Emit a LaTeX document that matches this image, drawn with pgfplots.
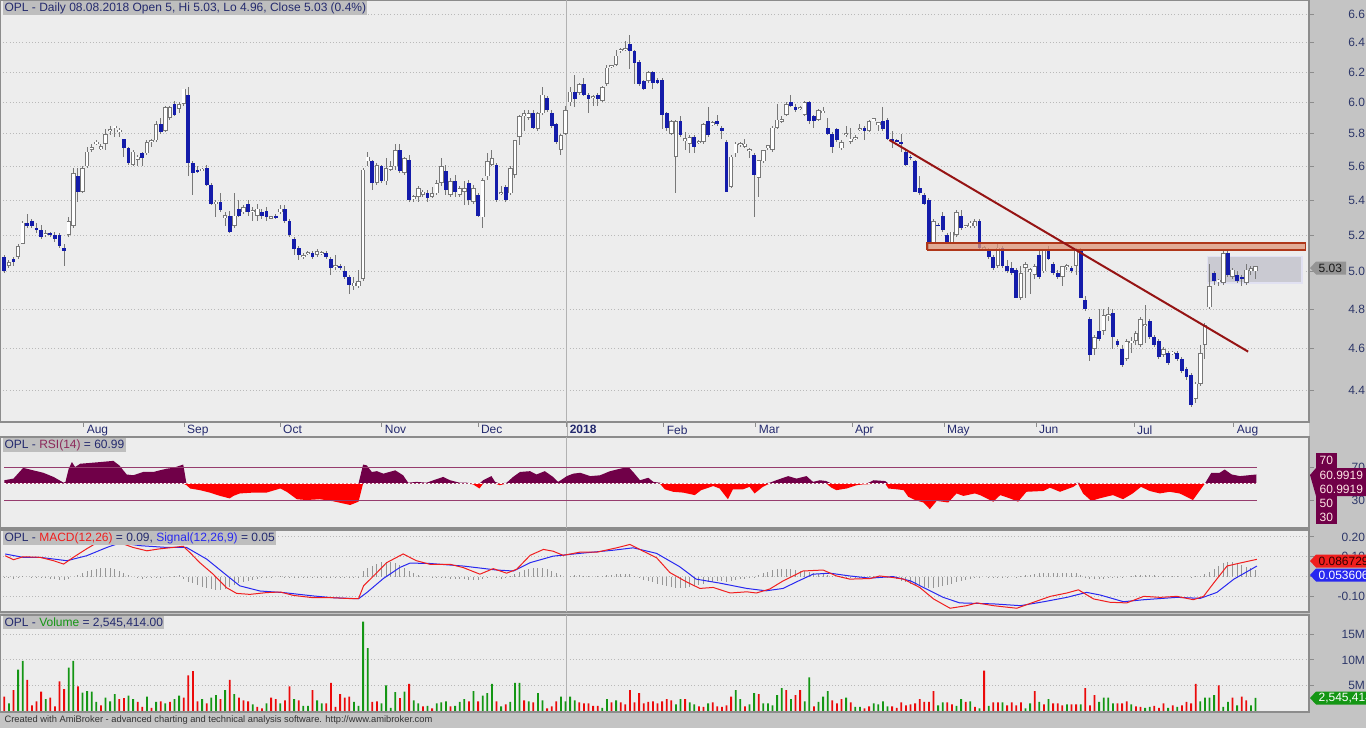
\documentclass[border=0pt]{standalone}
\usepackage{fontspec}
\setmainfont{Liberation Sans}
\usepackage{pgfplots}
\pgfplotsset{compat=1.18}
\usepackage{pgfplotstable}

\definecolor{frame}{RGB}{196,196,196}
\definecolor{panel}{RGB}{237,237,237}
\definecolor{navy}{RGB}{36,42,110}
\definecolor{ticktext}{RGB}{45,55,105}
\definecolor{gridc}{RGB}{185,185,185}
\definecolor{sep}{RGB}{140,140,140}
\definecolor{candleblue}{RGB}{20,28,170}
\definecolor{candleline}{RGB}{120,120,120}
\definecolor{trend}{RGB}{150,20,20}
\definecolor{bandfill}{RGB}{222,150,120}
\definecolor{banddraw}{RGB}{175,55,25}
\definecolor{rangebox}{RGB}{202,202,210}
\definecolor{rangeline}{RGB}{225,225,242}
\definecolor{rsifill}{RGB}{112,0,72}
\definecolor{rsiline}{RGB}{150,60,110}
\definecolor{rsitxt}{RGB}{140,40,90}
\definecolor{macdred}{RGB}{240,30,30}
\definecolor{sigblue}{RGB}{40,40,240}
\definecolor{volgreen}{RGB}{20,150,20}
\definecolor{volred}{RGB}{235,10,10}
\definecolor{histgray}{RGB}{150,150,150}
\definecolor{labelbox}{RGB}{190,190,190}

\newcommand\f{\fontsize{9}{10.5}\selectfont}

% daily candles: bar index, open, high, low, close
\pgfplotstableread{
k o h l c
0 5.08 5.09 4.99 5.00
1 5.03 5.06 5.02 5.05
2 5.07 5.08 5.03 5.05
3 5.08 5.15 5.07 5.14
4 5.15 5.28 5.15 5.27
5 5.27 5.32 5.24 5.25
6 5.28 5.29 5.24 5.25
7 5.24 5.27 5.21 5.23
8 5.23 5.26 5.18 5.19
9 5.20 5.23 5.19 5.21
10 5.21 5.22 5.19 5.20
11 5.20 5.22 5.16 5.18
12 5.20 5.21 5.13 5.14
13 5.13 5.15 5.03 5.11
14 5.20 5.30 5.19 5.28
15 5.25 5.59 5.24 5.56
16 5.54 5.59 5.39 5.45
17 5.45 5.60 5.44 5.59
18 5.60 5.72 5.59 5.69
19 5.70 5.74 5.69 5.72
20 5.74 5.76 5.73 5.75
21 5.71 5.74 5.70 5.72
22 5.74 5.83 5.70 5.80
23 5.82 5.85 5.79 5.83
24 5.84 5.85 5.78 5.85
25 5.82 5.84 5.78 5.82
26 5.77 5.77 5.66 5.71
27 5.71 5.72 5.61 5.62
28 5.61 5.70 5.60 5.69
29 5.64 5.67 5.60 5.66
30 5.68 5.69 5.60 5.65
31 5.68 5.76 5.67 5.75
32 5.75 5.77 5.72 5.76
33 5.76 5.88 5.75 5.86
34 5.86 5.90 5.80 5.81
35 5.82 5.98 5.81 5.97
36 5.90 5.98 5.89 5.97
37 5.99 6.01 5.91 5.92
38 5.96 6.00 5.93 5.99
39 5.99 6.09 5.98 6.09
40 6.05 6.10 5.54 5.62
41 5.62 5.63 5.43 5.56
42 5.58 5.60 5.56 5.57
43 5.58 5.59 5.57 5.58
44 5.59 5.61 5.48 5.49
45 5.49 5.50 5.37 5.38
46 5.38 5.40 5.30 5.39
47 5.39 5.44 5.33 5.34
48 5.30 5.33 5.25 5.31
49 5.31 5.34 5.21 5.22
50 5.25 5.44 5.24 5.31
51 5.35 5.40 5.30 5.31
52 5.33 5.37 5.32 5.36
53 5.38 5.40 5.31 5.33
54 5.33 5.36 5.28 5.34
55 5.31 5.38 5.28 5.35
56 5.33 5.35 5.29 5.31
57 5.34 5.36 5.28 5.30
58 5.30 5.31 5.29 5.30
59 5.31 5.32 5.29 5.30
60 5.33 5.37 5.32 5.35
61 5.35 5.37 5.27 5.28
62 5.28 5.29 5.19 5.20
63 5.18 5.19 5.09 5.12
64 5.13 5.14 5.06 5.09
65 5.08 5.10 5.07 5.09
66 5.10 5.11 5.09 5.10
67 5.10 5.11 5.07 5.08
68 5.09 5.12 5.08 5.11
69 5.10 5.11 5.09 5.10
70 5.10 5.11 5.07 5.08
71 5.07 5.08 4.98 5.02
72 5.03 5.09 5.01 5.03
73 5.03 5.04 5.01 5.02
74 5.00 5.03 4.96 4.97
75 4.97 4.98 4.88 4.93
76 4.92 4.97 4.90 4.94
77 4.92 5.01 4.91 4.95
78 4.96 5.59 4.95 5.58
79 5.63 5.69 5.60 5.66
80 5.63 5.64 5.46 5.50
81 5.50 5.62 5.49 5.61
82 5.60 5.61 5.50 5.51
83 5.51 5.65 5.49 5.59
84 5.58 5.63 5.57 5.60
85 5.60 5.74 5.58 5.70
86 5.70 5.74 5.56 5.57
87 5.56 5.66 5.55 5.65
88 5.64 5.67 5.39 5.40
89 5.41 5.43 5.39 5.42
90 5.42 5.48 5.39 5.47
91 5.43 5.46 5.42 5.45
92 5.44 5.46 5.39 5.41
93 5.42 5.48 5.41 5.44
94 5.44 5.52 5.43 5.50
95 5.50 5.65 5.48 5.60
96 5.57 5.61 5.43 5.46
97 5.43 5.53 5.42 5.51
98 5.51 5.55 5.42 5.45
99 5.43 5.48 5.42 5.47
100 5.45 5.51 5.37 5.47
101 5.50 5.52 5.37 5.40
102 5.39 5.49 5.38 5.47
103 5.43 5.44 5.30 5.31
104 5.30 5.53 5.24 5.52
105 5.54 5.68 5.52 5.63
106 5.61 5.70 5.60 5.65
107 5.61 5.62 5.39 5.40
108 5.44 5.48 5.43 5.44
109 5.48 5.49 5.39 5.40
110 5.44 5.60 5.43 5.59
111 5.55 5.76 5.53 5.76
112 5.78 5.92 5.73 5.91
113 5.91 5.95 5.82 5.93
114 5.90 5.95 5.89 5.93
115 5.93 5.95 5.83 5.84
116 5.83 5.94 5.82 5.93
117 5.93 6.10 5.92 6.05
118 6.03 6.04 5.94 5.95
119 5.93 5.95 5.84 5.85
120 5.86 5.87 5.74 5.75
121 5.70 5.80 5.67 5.79
122 5.80 5.98 5.79 5.95
123 6.00 6.10 5.98 6.07
124 6.07 6.18 5.97 6.02
125 6.06 6.13 6.05 6.12
126 6.12 6.16 6.04 6.05
127 6.05 6.06 5.93 6.02
128 6.03 6.05 5.98 6.04
129 6.05 6.06 5.98 6.02
130 6.01 6.11 6.00 6.10
131 6.12 6.25 6.11 6.23
132 6.24 6.25 6.23 6.24
133 6.25 6.35 6.24 6.31
134 6.35 6.36 6.33 6.35
135 6.35 6.41 6.34 6.36
136 6.39 6.45 6.22 6.34
137 6.34 6.35 6.12 6.26
138 6.27 6.28 6.11 6.12
139 6.14 6.15 6.08 6.09
140 6.14 6.21 6.13 6.20
141 6.20 6.21 6.09 6.13
142 6.15 6.16 6.12 6.13
143 6.15 6.16 5.83 5.92
144 5.93 5.94 5.82 5.84
145 5.80 5.89 5.79 5.88
146 5.66 5.89 5.44 5.88
147 5.88 5.91 5.78 5.79
148 5.76 5.81 5.70 5.77
149 5.74 5.79 5.68 5.78
150 5.78 5.79 5.68 5.72
151 5.75 5.76 5.74 5.75
152 5.75 5.87 5.74 5.86
153 5.88 5.97 5.78 5.79
154 5.86 5.88 5.85 5.87
155 5.88 5.92 5.85 5.86
156 5.84 5.85 5.77 5.82
157 5.75 5.76 5.45 5.45
158 5.48 5.67 5.47 5.66
159 5.68 5.75 5.66 5.74
160 5.73 5.75 5.72 5.74
161 5.72 5.77 5.71 5.74
162 5.70 5.71 5.65 5.70
163 5.67 5.68 5.30 5.55
164 5.53 5.64 5.42 5.64
165 5.63 5.70 5.62 5.70
166 5.71 5.73 5.70 5.73
167 5.70 5.85 5.69 5.84
168 5.84 5.99 5.83 5.89
169 5.88 5.91 5.87 5.89
170 5.92 6.00 5.91 5.99
171 6.00 6.05 5.97 5.98
172 5.97 5.99 5.94 5.95
173 5.96 5.98 5.95 5.97
174 5.92 6.01 5.91 6.00
175 6.00 6.01 5.86 5.88
176 5.91 5.92 5.84 5.88
177 5.89 5.96 5.88 5.95
178 5.94 5.97 5.93 5.94
179 5.84 5.90 5.79 5.80
180 5.80 5.81 5.68 5.72
181 5.83 5.84 5.75 5.76
182 5.71 5.76 5.70 5.75
183 5.80 5.85 5.78 5.80
184 5.75 5.84 5.74 5.77
185 5.77 5.79 5.76 5.78
186 5.83 5.86 5.82 5.83
187 5.84 5.85 5.76 5.82
188 5.82 5.89 5.81 5.88
189 5.89 5.90 5.88 5.89
190 5.86 5.87 5.82 5.87
191 5.88 5.97 5.82 5.83
192 5.89 5.90 5.76 5.77
193 5.77 5.82 5.71 5.76
194 5.76 5.77 5.75 5.75
195 5.75 5.80 5.69 5.74
196 5.69 5.70 5.60 5.61
197 5.66 5.67 5.64 5.65
198 5.63 5.64 5.45 5.45
199 5.47 5.54 5.43 5.44
200 5.43 5.44 5.37 5.38
201 5.40 5.41 5.12 5.15
202 5.16 5.29 5.15 5.28
203 5.26 5.27 5.25 5.25
204 5.31 5.33 5.22 5.23
205 5.20 5.21 5.15 5.16
206 5.16 5.22 5.15 5.22
207 5.20 5.34 5.19 5.33
208 5.31 5.34 5.23 5.24
209 5.25 5.26 5.24 5.25
210 5.25 5.28 5.24 5.27
211 5.25 5.29 5.24 5.28
212 5.28 5.29 5.12 5.13
213 5.12 5.14 5.11 5.13
214 5.12 5.13 5.07 5.08
215 5.08 5.09 5.01 5.02
216 5.03 5.16 5.02 5.13
217 5.13 5.14 5.02 5.03
218 5.03 5.06 4.99 5.00
219 5.02 5.05 4.98 4.99
220 5.01 5.02 4.86 4.86
221 4.86 5.03 4.85 4.99
222 5.02 5.05 4.86 5.04
223 5.00 5.02 4.88 5.01
224 4.98 5.04 4.96 5.03
225 5.09 5.11 4.96 4.97
226 5.00 5.12 4.99 5.12
227 5.11 5.14 5.06 5.07
228 5.04 5.05 4.98 4.99
229 4.99 5.01 4.96 4.97
230 4.97 5.03 4.92 5.03
231 5.03 5.04 5.01 5.03
232 5.02 5.03 4.99 5.00
233 5.03 5.13 4.98 5.12
234 5.12 5.13 4.86 4.86
235 4.85 4.87 4.79 4.80
236 4.75 4.76 4.54 4.57
237 4.60 4.67 4.57 4.66
238 4.69 4.80 4.64 4.65
239 4.69 4.80 4.67 4.77
240 4.77 4.81 4.74 4.77
241 4.78 4.80 4.60 4.66
242 4.64 4.65 4.61 4.62
243 4.60 4.62 4.51 4.52
244 4.55 4.65 4.54 4.64
245 4.63 4.66 4.58 4.64
246 4.64 4.69 4.62 4.68
247 4.62 4.76 4.61 4.75
248 4.72 4.82 4.63 4.72
249 4.74 4.75 4.65 4.66
250 4.66 4.67 4.61 4.62
251 4.64 4.65 4.55 4.56
252 4.57 4.61 4.56 4.60
253 4.58 4.59 4.52 4.53
254 4.58 4.59 4.57 4.58
255 4.58 4.59 4.54 4.55
256 4.55 4.56 4.48 4.49
257 4.50 4.51 4.45 4.46
258 4.47 4.48 4.32 4.33
259 4.36 4.44 4.34 4.43
260 4.43 4.62 4.42 4.58
261 4.62 4.73 4.55 4.72
262 4.81 5.04 4.80 4.92
263 4.99 5.00 4.93 4.95
264 4.95 4.96 4.92 4.95
265 4.94 5.12 4.93 5.10
266 5.10 5.11 4.97 4.98
267 4.97 5.02 4.96 5.01
268 4.98 5.00 4.94 4.95
269 4.97 4.98 4.92 4.96
270 4.94 5.04 4.93 5.01
271 5.00 5.03 4.98 5.02
272 5.00 5.03 4.96 5.03
}\candles

% RSI(14), read at sampled bar positions
\pgfplotstableread[row sep=\\]{
k r\\
0 54\\ 2 56\\ 4.1 69\\ 6.3 66\\ 8.5 63\\ 10.7 58\\ 12.9 51\\ 13.3 52\\ 14 68\\ 14.7 76\\
15.4 70\\ 16.5 74\\ 18.7 75\\ 20.8 76\\ 23.7 77.5\\ 25 72\\ 26.6 61\\ 28 60\\ 30.2 64\\ 32.4 64\\
33.8 66\\ 35.3 68\\ 36.7 69\\ 38.9 73\\ 39.6 48\\ 40.4 44\\ 42.5 42\\ 44.7 39\\ 46.9 35\\ 49 32\\
49.8 35\\ 51.2 38\\ 54.1 39\\ 57 39\\ 60 44\\ 61.4 40\\ 63.6 31\\ 65.7 30\\ 68.6 31\\ 71.5 28.5\\
75.2 24\\ 77 28\\ 78 73\\ 78.8 72\\ 79.9 64\\ 81 65\\ 82.4 62\\ 85 66\\ 86.7 60\\ 87.8 51\\
89.6 52\\ 91.8 51\\ 93.3 54\\ 95.4 58\\ 96.9 54\\ 99 51\\ 100.5 51\\ 101.9 49\\ 103.3 44\\ 104.1 54\\
105.9 59\\ 106.7 52\\ 107.7 48\\ 109.2 51\\ 110.6 58\\ 112.1 64\\ 114.3 65\\ 115.7 61\\ 117.5 65\\ 119.3 58\\
120.4 52\\ 122.3 59\\ 123.7 62\\ 125.2 63\\ 127.4 59\\ 129.5 60\\ 131.7 65\\ 133.9 68\\ 135.7 70\\ 136.7 64\\
138.2 54\\ 140 57\\ 141.1 52\\ 142.5 51\\ 143.6 43\\ 145.4 40\\ 147.6 39\\ 150.1 36\\ 151.5 42\\ 152.6 44\\
154.1 47\\ 155.5 44\\ 157.3 31\\ 158.4 43\\ 160.6 43\\ 162 46\\ 163.1 38\\ 164.9 46\\ 166.4 51\\ 167.8 54\\
170.4 59\\ 172.2 56\\ 174.4 59\\ 175.8 52\\ 177.3 54\\ 178.7 53\\ 179.8 45\\ 180.9 42\\ 183.1 44\\ 185.3 48\\
186.7 49\\ 187.5 49\\ 189 54\\ 191.5 53\\ 192.2 44\\ 194 43\\ 195.5 42\\ 196.5 34\\ 198 30\\ 199.8 27\\
201.2 19\\ 202.7 29\\ 205.2 27\\ 207 38\\ 208.5 35\\ 211 38\\ 212.1 36\\ 215 28\\ 216.5 36\\ 218.6 32\\
220.4 28\\ 222.2 40\\ 225.9 41\\ 227.3 45\\ 229.5 40\\ 232.4 46\\ 233.4 51\\ 234.5 38\\ 236.3 29\\ 238.1 32\\
241 36\\ 243.2 31\\ 245.3 38\\ 247.1 46\\ 249 41\\ 251.2 38\\ 253.3 40\\ 255.5 38\\ 258.4 30\\ 261 50\\
262.4 63\\ 264.2 63\\ 265.3 67\\ 266.8 61\\ 268.6 59\\ 270.4 60\\ 272.2 61\\
}\rsi

% MACD(12,26) line
\pgfplotstableread[row sep=\\]{
k m\\
0.2 0.105\\ 2 0.085\\ 4.1 0.10\\ 7.8 0.097\\ 10.7 0.08\\ 12.9 0.063\\ 15 0.097\\ 17.9 0.14\\ 20.8 0.18\\ 23 0.185\\
25.2 0.17\\ 28 0.147\\ 31 0.13\\ 33.8 0.14\\ 36.7 0.147\\ 38.9 0.153\\ 40.4 0.12\\ 42.5 0.07\\ 45.4 0.012\\ 48.3 -0.056\\
50.5 -0.085\\ 53.4 -0.09\\ 57 -0.081\\ 60 -0.078\\ 62.8 -0.095\\ 67.2 -0.107\\ 71.5 -0.107\\ 75.9 -0.112\\ 77 -0.112\\ 78.1 -0.047\\
81 0.02\\ 83.1 0.07\\ 86.7 0.114\\ 89.6 0.08\\ 92.5 0.062\\ 96.9 0.062\\ 99.8 0.045\\ 103.4 0.012\\ 106.3 0.04\\ 109.2 0.017\\
111.4 0.037\\ 114.3 0.107\\ 117.2 0.137\\ 119.3 0.128\\ 121.5 0.107\\ 125.1 0.123\\ 128.8 0.123\\ 133.1 0.145\\ 136 0.162\\ 138.9 0.128\\
141.8 0.095\\ 144.7 0.02\\ 148.3 -0.027\\ 151.2 -0.06\\ 154.1 -0.055\\ 157.8 -0.083\\ 161.4 -0.077\\ 163.5 -0.083\\ 166.4 -0.063\\ 169.3 -0.022\\
173.6 0.028\\ 178 0.033\\ 180.9 0.003\\ 183.8 -0.013\\ 188.2 -0.01\\ 190.3 0.003\\ 193.2 -0.005\\ 195.5 -0.013\\ 199 -0.055\\ 202 -0.113\\
205.6 -0.16\\ 209.2 -0.147\\ 211.4 -0.133\\ 215 -0.147\\ 220.1 -0.16\\ 223.7 -0.13\\ 227.4 -0.1\\ 231 -0.083\\ 233.5 -0.067\\ 236.8 -0.113\\
240.4 -0.13\\ 244 -0.133\\ 247.7 -0.1\\ 251.3 -0.105\\ 254.9 -0.1\\ 258.5 -0.117\\ 260.7 -0.1\\ 262.9 -0.033\\ 265.8 0.053\\ 268 0.065\\
272.3 0.087\\
}\macd

% Signal(12,26,9) line
\pgfplotstableread[row sep=\\]{
k s\\
0.2 0.114\\ 4.1 0.097\\ 7.8 0.097\\ 13.6 0.08\\ 17.9 0.105\\ 22.3 0.147\\ 25.2 0.17\\ 29.5 0.156\\ 35.3 0.147\\ 39.6 0.147\\
44 0.088\\ 48.3 0.007\\ 51.2 -0.047\\ 55.6 -0.073\\ 60.7 -0.081\\ 67.2 -0.098\\ 71.5 -0.107\\ 77 -0.112\\ 78.8 -0.081\\ 82.4 -0.01\\
86 0.046\\ 88.2 0.068\\ 92.5 0.066\\ 99.8 0.053\\ 107 0.033\\ 110.7 0.028\\ 114.3 0.07\\ 119.3 0.103\\ 125.1 0.117\\ 132.4 0.133\\
136.7 0.145\\ 141.8 0.117\\ 146.8 0.05\\ 150.4 -0.013\\ 155.5 -0.033\\ 161.4 -0.06\\ 165.6 -0.072\\ 169.3 -0.06\\ 172.2 -0.027\\ 175.8 0.012\\
179.5 0.017\\ 183.8 0.003\\ 188.2 -0.008\\ 193.2 0\\ 197 -0.022\\ 200.5 -0.063\\ 204.1 -0.105\\ 207.7 -0.133\\ 215 -0.138\\ 220.9 -0.147\\
226 -0.127\\ 231 -0.105\\ 235.3 -0.08\\ 238.2 -0.093\\ 243.3 -0.127\\ 247.7 -0.117\\ 254.9 -0.105\\ 260 -0.11\\ 263.6 -0.08\\ 267.3 -0.013\\
272.3 0.053\\
}\sig

% MACD histogram, one value per bar
\pgfplotstableread[row sep=\\]{
k h\\
0 -0.008\\ 1 -0.008\\ 2 -0.01\\ 3 -0.005\\ 4 0.002\\ 5 0\\ 6 -0.002\\ 7 -0.003\\ 8 -0.005\\ 9 -0.008\\
10 -0.01\\ 11 -0.012\\ 12 -0.015\\ 13 -0.018\\ 14 -0.01\\ 15 0\\ 16 0.01\\ 17 0.02\\ 18 0.028\\ 19 0.035\\
20 0.04\\ 21 0.045\\ 22 0.045\\ 23 0.042\\ 24 0.04\\ 25 0.03\\ 26 0.02\\ 27 0.01\\ 28 0\\ 29 -0.005\\
30 -0.01\\ 31 -0.008\\ 32 -0.006\\ 33 -0.004\\ 34 -0.002\\ 35 0\\ 36 0.002\\ 37 0.004\\ 38 0.006\\ 39 -0.01\\
40 -0.025\\ 41 -0.035\\ 42 -0.045\\ 43 -0.055\\ 44 -0.06\\ 45 -0.065\\ 46 -0.07\\ 47 -0.07\\ 48 -0.065\\ 49 -0.055\\
50 -0.045\\ 51 -0.035\\ 52 -0.025\\ 53 -0.02\\ 54 -0.015\\ 55 -0.01\\ 56 -0.008\\ 57 -0.005\\ 58 -0.003\\ 59 0\\
60 0.002\\ 61 -0.002\\ 62 -0.005\\ 63 -0.008\\ 64 -0.008\\ 65 -0.007\\ 66 -0.006\\ 67 -0.005\\ 68 -0.004\\ 69 -0.003\\
70 -0.003\\ 71 -0.002\\ 72 -0.002\\ 73 -0.003\\ 74 -0.003\\ 75 -0.004\\ 76 -0.004\\ 77 -0.003\\ 78 0.03\\ 79 0.045\\
80 0.055\\ 81 0.065\\ 82 0.075\\ 83 0.075\\ 84 0.072\\ 85 0.068\\ 86 0.06\\ 87 0.045\\ 88 0.03\\ 89 0.02\\
90 0.01\\ 91 0.005\\ 92 0\\ 93 -0.003\\ 94 -0.005\\ 95 -0.006\\ 96 -0.008\\ 97 -0.01\\ 98 -0.012\\ 99 -0.012\\
100 -0.014\\ 101 -0.016\\ 102 -0.018\\ 103 -0.015\\ 104 -0.01\\ 105 -0.005\\ 106 0\\ 107 -0.008\\ 108 -0.01\\ 109 -0.008\\
110 0.005\\ 111 0.015\\ 112 0.025\\ 113 0.035\\ 114 0.04\\ 115 0.043\\ 116 0.045\\ 117 0.043\\ 118 0.04\\ 119 0.03\\
120 0.02\\ 121 0.008\\ 122 0\\ 123 0.005\\ 124 0.008\\ 125 0.006\\ 126 0.004\\ 127 0.002\\ 128 0\\ 129 0.002\\
130 0.004\\ 131 0.008\\ 132 0.01\\ 133 0.012\\ 134 0.014\\ 135 0.014\\ 136 0.012\\ 137 0.005\\ 138 -0.008\\ 139 -0.015\\
140 -0.022\\ 141 -0.03\\ 142 -0.038\\ 143 -0.045\\ 144 -0.05\\ 145 -0.055\\ 146 -0.06\\ 147 -0.06\\ 148 -0.058\\ 149 -0.055\\
150 -0.05\\ 151 -0.045\\ 152 -0.038\\ 153 -0.03\\ 154 -0.025\\ 155 -0.02\\ 156 -0.022\\ 157 -0.025\\ 158 -0.02\\ 159 -0.015\\
160 -0.012\\ 161 -0.01\\ 162 -0.008\\ 163 -0.006\\ 164 0.01\\ 165 0.018\\ 166 0.025\\ 167 0.032\\ 168 0.038\\ 169 0.04\\
170 0.04\\ 171 0.038\\ 172 0.035\\ 173 0.03\\ 174 0.028\\ 175 0.025\\ 176 0.02\\ 177 0.015\\ 178 0.012\\ 179 0.008\\
180 0.004\\ 181 0\\ 182 -0.004\\ 183 -0.006\\ 184 -0.006\\ 185 -0.004\\ 186 -0.002\\ 187 0\\ 188 0.002\\ 189 0.004\\
190 0.004\\ 191 0.002\\ 192 -0.002\\ 193 -0.006\\ 194 -0.012\\ 195 -0.02\\ 196 -0.028\\ 197 -0.036\\ 198 -0.044\\ 199 -0.05\\
200 -0.055\\ 201 -0.058\\ 202 -0.058\\ 203 -0.055\\ 204 -0.05\\ 205 -0.045\\ 206 -0.038\\ 207 -0.03\\ 208 -0.022\\ 209 -0.015\\
210 -0.01\\ 211 -0.005\\ 212 -0.002\\ 213 0\\ 214 -0.002\\ 215 -0.005\\ 216 -0.006\\ 217 -0.004\\ 218 -0.002\\ 219 0\\
220 -0.004\\ 221 0.002\\ 222 0.006\\ 223 0.01\\ 224 0.014\\ 225 0.016\\ 226 0.018\\ 227 0.02\\ 228 0.02\\ 229 0.02\\
230 0.018\\ 231 0.018\\ 232 0.018\\ 233 0.02\\ 234 0.01\\ 235 -0.005\\ 236 -0.01\\ 237 -0.012\\ 238 -0.012\\ 239 -0.01\\
240 -0.008\\ 241 -0.006\\ 242 -0.004\\ 243 -0.002\\ 244 0\\ 245 0.004\\ 246 0.006\\ 247 0.008\\ 248 0.008\\ 249 0.007\\
250 0.006\\ 251 0.005\\ 252 0.004\\ 253 0.003\\ 254 0.002\\ 255 0.002\\ 256 0\\ 257 0\\ 258 -0.002\\ 259 0.002\\
260 0.005\\ 261 0.012\\ 262 0.025\\ 263 0.04\\ 264 0.055\\ 265 0.068\\ 266 0.075\\ 267 0.075\\ 268 0.07\\ 269 0.06\\
270 0.05\\ 271 0.045\\ 272 0.035\\
}\hist

% volume in millions, g = 1 green / 0 red
\pgfplotstableread[row sep=\\]{
k v g\\
0 2.8 0\\ 1 1.5 1\\ 2 4.1 0\\ 3 8.1 1\\ 4 9.8 1\\ 5 6.1 0\\ 6 1.1 0\\ 7 1.9 0\\ 8 3.8 0\\ 9 2.3 1\\
10 2.6 0\\ 11 0.9 0\\ 12 5.8 0\\ 13 4.3 0\\ 14 8.5 1\\ 15 9.8 1\\ 16 4.8 0\\ 17 3.6 1\\ 18 3.9 1\\ 19 3.8 1\\
20 1.8 1\\ 21 1.1 0\\ 22 2.6 1\\ 23 1.9 1\\ 24 3.3 1\\ 25 2.3 0\\ 26 2.5 0\\ 27 3.0 1\\ 28 2.3 1\\ 29 1.8 0\\
30 0.8 0\\ 31 2.8 1\\ 32 0.6 0\\ 33 1.8 1\\ 34 1.9 0\\ 35 1.5 1\\ 36 1.8 0\\ 37 2.3 1\\ 38 3.0 1\\ 39 2.6 0\\
40 7.0 0\\ 41 7.8 0\\ 42 1.9 0\\ 43 2.3 1\\ 44 1.5 0\\ 45 2.6 1\\ 46 3.1 1\\ 47 2.3 0\\ 48 4.1 1\\ 49 6.1 0\\
50 3.3 1\\ 51 2.6 0\\ 52 2.1 0\\ 53 1.9 0\\ 54 1.3 1\\ 55 0.8 0\\ 56 0.5 0\\ 57 1.5 1\\ 58 2.6 0\\ 59 2.3 0\\
60 1.5 1\\ 61 2.1 0\\ 62 4.8 0\\ 63 2.3 1\\ 64 2.1 0\\ 65 1.0 1\\ 66 1.0 1\\ 67 4.1 0\\ 68 2.1 1\\ 69 1.5 1\\
70 1.5 0\\ 71 5.5 0\\ 72 0.8 0\\ 73 3.3 0\\ 74 2.6 0\\ 75 2.8 0\\ 76 1.8 1\\ 77 1.0 1\\ 78 17.5 1\\ 79 12.3 1\\
80 1.8 0\\ 81 1.9 0\\ 82 1.5 1\\ 83 5.0 1\\ 84 0.6 1\\ 85 3.7 1\\ 86 2.5 0\\ 87 3.8 1\\ 88 5.3 0\\ 89 2.1 1\\
90 1.5 1\\ 91 0.9 0\\ 92 1.0 1\\ 93 0.5 0\\ 94 1.5 1\\ 95 1.7 1\\ 96 1.9 1\\ 97 0.9 0\\ 98 1.0 1\\ 99 1.8 1\\
100 2.3 1\\ 101 1.9 0\\ 102 3.9 1\\ 103 1.9 0\\ 104 3.0 1\\ 105 3.5 1\\ 106 5.3 1\\ 107 1.9 0\\ 108 0.9 1\\ 109 1.3 0\\
110 1.8 1\\ 111 5.5 1\\ 112 5.5 1\\ 113 2.1 0\\ 114 1.9 1\\ 115 1.7 0\\ 116 3.5 1\\ 117 2.1 1\\ 118 0.5 0\\ 119 0.9 0\\
120 1.9 0\\ 121 2.8 1\\ 122 1.9 1\\ 123 2.8 1\\ 124 2.1 1\\ 125 1.7 0\\ 126 1.5 0\\ 127 1.5 0\\ 128 1.0 0\\ 129 1.0 0\\
130 0.6 1\\ 131 2.3 1\\ 132 1.7 0\\ 133 2.1 1\\ 134 1.7 0\\ 135 1.3 0\\ 136 4.1 0\\ 137 1.7 0\\ 138 3.5 0\\ 139 1.5 0\\
140 1.8 0\\ 141 1.9 0\\ 142 1.5 0\\ 143 1.9 0\\ 144 2.3 0\\ 145 2.1 0\\ 146 1.3 1\\ 147 2.3 1\\ 148 2.3 0\\ 149 1.7 1\\
150 1.3 1\\ 151 0.9 0\\ 152 0.8 0\\ 153 1.5 1\\ 154 1.7 0\\ 155 0.9 0\\ 156 0.8 0\\ 157 1.1 0\\ 158 2.8 0\\ 159 4.1 1\\
160 2.3 1\\ 161 0.9 0\\ 162 1.3 1\\ 163 3.5 1\\ 164 3.3 0\\ 165 1.5 1\\ 166 1.5 1\\ 167 1.1 1\\ 168 3.1 1\\ 169 4.5 1\\
170 4.1 0\\ 171 2.3 1\\ 172 3.1 0\\ 173 4.1 0\\ 174 1.9 1\\ 175 6.6 1\\ 176 0.9 0\\ 177 1.8 1\\ 178 2.8 1\\ 179 3.9 1\\
180 2.1 0\\ 181 1.5 0\\ 182 2.3 0\\ 183 2.6 1\\ 184 1.7 0\\ 185 0.8 1\\ 186 0.8 1\\ 187 0.5 0\\ 188 0.9 0\\ 189 1.5 1\\
190 1.3 1\\ 191 1.9 1\\ 192 0.9 1\\ 193 0.9 0\\ 194 0.6 0\\ 195 1.7 0\\ 196 1.1 0\\ 197 1.3 0\\ 198 1.5 0\\ 199 2.3 0\\
200 1.8 0\\ 201 1.8 0\\ 202 3.9 0\\ 203 1.1 1\\ 204 1.7 1\\ 205 1.7 0\\ 206 1.3 0\\ 207 1.0 1\\ 208 2.3 1\\ 209 1.8 0\\
210 1.9 1\\ 211 0.8 0\\ 212 0.5 1\\ 213 7.9 0\\ 214 1.0 1\\ 215 1.7 0\\ 216 1.7 0\\ 217 1.7 1\\ 218 1.1 0\\ 219 1.7 0\\
220 1.1 0\\ 221 1.7 0\\ 222 0.5 1\\ 223 1.5 1\\ 224 3.9 0\\ 225 1.8 1\\ 226 1.3 0\\ 227 2.3 1\\ 228 1.5 0\\ 229 1.5 0\\
230 1.1 0\\ 231 1.3 1\\ 232 1.3 0\\ 233 1.3 0\\ 234 1.3 1\\ 235 4.5 0\\ 236 1.1 0\\ 237 3.1 0\\ 238 1.8 1\\ 239 2.6 1\\
240 2.6 1\\ 241 1.5 1\\ 242 1.5 0\\ 243 1.5 0\\ 244 1.9 0\\ 245 1.3 1\\ 246 0.9 0\\ 247 0.8 0\\ 248 0.6 1\\ 249 0.8 1\\
250 1.0 0\\ 251 0.6 0\\ 252 1.5 0\\ 253 0.6 1\\ 254 1.1 0\\ 255 0.8 1\\ 256 1.1 0\\ 257 1.8 0\\ 258 1.5 0\\ 259 5.3 0\\
260 1.9 1\\ 261 2.6 1\\ 262 2.6 1\\ 263 3.1 1\\ 264 5.0 0\\ 265 0.8 1\\ 266 1.8 1\\ 267 2.6 0\\ 268 1.1 1\\ 269 2.8 0\\
270 2.1 0\\ 271 1.1 1\\ 272 2.55 1\\
}\vol

\pgfplotsset{
  panel/.style={
    scale only axis, width=981.75pt, anchor=north west,
    xmin=-0.935, xmax=283.63,
    axis background/.style={fill=panel},
    axis line style={draw=sep, line width=1.2pt},
    tick align=outside, major tick length=3.5pt,
    tick style={draw=sep, line width=0.75pt},
    ytick pos=right,
    yticklabel style={anchor=east, xshift=42pt, font=\f, text=ticktext},
    ymajorgrids, major grid style={draw=gridc, dotted, line width=0.75pt},
    xtick=\empty,
    extra x ticks={122.3}, extra x tick labels={},
    extra x tick style={grid=major, major tick length=0pt,
      major grid style={draw=black!30, solid, line width=0.75pt}},
  },
  candle/.style={draw=none, mark=none,
    error bars/.cd, y dir=both, y explicit, error mark=none},
}

\begin{document}
\begin{tikzpicture}
\useasboundingbox (0,0) rectangle (1024.5pt,-546pt);
\fill[frame] (0,0) rectangle (1024.5pt,-546pt);
\begin{scope}[x=0.75pt,y=-0.75pt]
  \fill[panel] (0,422) rectangle (1309,437);
  \draw[black!30, line width=0.75pt] (567,422) -- (567,437);
\end{scope}

% ---- price (log scale drawn as ln of price)
\begin{axis}[panel, at={(0pt,0pt)}, height=316.5pt,
    ymin=1.4471, ymax=1.9022,
    ytick={1.48160,1.52606,1.56862,1.60944,1.64866,1.68640,1.72277,1.75786,1.79176,1.82455,1.85630,1.88707},
    yticklabels={4.4,4.6,4.8,5.0,5.2,5.4,5.6,5.8,6.0,6.2,6.4,6.6},
    xtick={17.3,39.1,60,82.1,103,122.3,143.4,163.4,184.3,204.3,224.3,245.6,267.3},
    xticklabels={Aug,Sep,Oct,Nov,Dec,\textbf{2018},Feb,Mar,Apr,May,Jun,Jul,Aug},
    xtick pos=bottom,
    xticklabel style={anchor=north west, inner sep=0pt, xshift=2pt, yshift=1pt, font=\f, text=navy},
  ]
  \addplot[fill=rangebox, draw=rangeline, line width=1pt]
    table[x=k, y expr=ln(\thisrow{p}), row sep=\\]
    {k p\\ 261.5 4.938\\ 282.1 4.938\\ 282.1 5.081\\ 261.5 5.081\\ 261.5 4.938\\};
  % wicks
  \addplot[candle, error bar style={draw=candleline, line width=0.75pt}]
    table[x=k, y expr={(ln(\thisrow{h})+ln(\thisrow{l}))/2},
          y error expr={(ln(\thisrow{h})-ln(\thisrow{l}))/2}] {\candles};
  % rising bodies: outline, then white inside
  \addplot[candle, error bar style={draw=candleline, line width=3.3pt}]
    table[x=k, y expr={\thisrow{c}<\thisrow{o} ? nan : (ln(\thisrow{o})+ln(\thisrow{c}))/2},
          y error expr={max(abs(ln(\thisrow{c})-ln(\thisrow{o}))/2,0.0012)}] {\candles};
  \addplot[candle, error bar style={draw=white, line width=1.9pt}]
    table[x=k, y expr={\thisrow{c}<\thisrow{o} ? nan : (ln(\thisrow{o})+ln(\thisrow{c}))/2},
          y error expr={max(abs(ln(\thisrow{c})-ln(\thisrow{o}))/2,0.0012)-0.0008}] {\candles};
  % falling bodies
  \addplot[candle, error bar style={draw=candleblue, line width=2.9pt}]
    table[x=k, y expr={\thisrow{c}<\thisrow{o} ? (ln(\thisrow{o})+ln(\thisrow{c}))/2 : nan},
          y error expr={max(abs(ln(\thisrow{o})-ln(\thisrow{c}))/2,0.0007)}] {\candles};
  % resistance band and trend line
  \addplot[fill=bandfill, fill opacity=0.75, draw=banddraw, line width=1pt]
    table[x=k, y expr=ln(\thisrow{p}), row sep=\\]
    {k p\\ 200.6 5.117\\ 282.8 5.117\\ 282.8 5.156\\ 200.6 5.156\\ 200.6 5.117\\};
  \addplot[trend, line width=1.5pt]
    table[x=k, y expr=ln(\thisrow{p}), row sep=\\] {k p\\ 192.4 5.762\\ 270.4 4.586\\};
\end{axis}

% ---- RSI (plotted as RSI-50)
\begin{axis}[panel, at={(0pt,-327.75pt)}, height=68.25pt,
    ymin=-53.9, ymax=56.4, ymajorgrids=false,
    ytick={-20,20}, yticklabels={30,70}]
  \addplot[fill=rsifill, draw=none] table[x=k, y expr={max(\thisrow{r}-50,0)}] {\rsi} \closedcycle;
  \addplot[fill=red, draw=none] table[x=k, y expr={min(\thisrow{r}-50,0)}] {\rsi} \closedcycle;
  \addplot[rsiline, line width=0.75pt] coordinates {(0,20) (272.3,20)};
  \addplot[rsiline, line width=0.75pt] coordinates {(0,-20) (272.3,-20)};
  \addplot[white, line width=0.75pt, dash pattern=on 1.5pt off 1.5pt] coordinates {(0,0) (272.3,0)};
\end{axis}

% ---- MACD
\begin{axis}[panel, at={(0pt,-397.5pt)}, height=61.5pt,
    ymin=-0.179, ymax=0.235,
    ytick={-0.1,0,0.1,0.2}, yticklabels={-0.10,0.00,0.10,0.20}]
  \addplot[ycomb, histgray, line width=0.75pt] table[x=k, y=h] {\hist};
  \addplot[sigblue, line width=0.75pt] table[x=k, y=s] {\sig};
  \addplot[macdred, line width=0.75pt] table[x=k, y=m] {\macd};
\end{axis}

% ---- Volume
\begin{axis}[panel, at={(0pt,-461.25pt)}, height=72.75pt,
    ymin=-0.2, ymax=18.8,
    ytick={5,10,15}, yticklabels={5M,10M,15M}]
  \addplot[ybar, bar width=1.35pt, bar shift=0pt, fill=volgreen, draw=none]
    table[x=k, y expr={\thisrow{g}>0.5 ? \thisrow{v} : nan}] {\vol};
  \addplot[ybar, bar width=1.35pt, bar shift=0pt, fill=volred, draw=none]
    table[x=k, y expr={\thisrow{g}<0.5 ? \thisrow{v} : nan}] {\vol};
\end{axis}

% ---- captions and value tags
\begin{scope}[x=0.75pt,y=-0.75pt, every node/.style={font=\f, inner sep=1pt}]
  \clip (0,0) rectangle (1366,728);
  \node[anchor=north west, fill=labelbox, text=navy] at (3,1)
    {OPL - Daily 08.08.2018 Open 5, Hi 5.03, Lo 4.96, Close 5.03 (0.4\%)};
  \node[anchor=north west, fill=labelbox, text=navy] at (3,438)
    {OPL - \textcolor{rsitxt}{RSI(14)} = 60.99};
  \node[anchor=north west, fill=labelbox, text=navy] at (3,531)
    {OPL - \textcolor{macdred}{MACD(12,26)} = 0.09, \textcolor{sigblue}{Signal(12,26,9)} = 0.05};
  \node[anchor=north west, fill=labelbox, text=navy] at (3,616)
    {OPL - \textcolor{volgreen}{Volume} = 2,545,414.00};
  \node[anchor=west, font=\fontsize{7}{8}\selectfont, text=black!80] at (3,720.5)
    {Created with AmiBroker - advanced charting and technical analysis software. http://www.amibroker.com};

  \fill[black!42] (1310,268) -- (1316,261.5) -- (1346,261.5) -- (1346,274.5) -- (1316,274.5) -- cycle;
  \node[anchor=west, text=black!90] at (1317,268) {5.03};

  \fill[rsifill] (1316,453) rectangle (1337,524);
  \fill[rsifill] (1310,475) -- (1316,468) -- (1366,468) -- (1366,496) -- (1316,496) -- cycle;
  \node[anchor=west, text=pink!40] at (1318,460.5) {70};
  \node[anchor=west, text=pink!40] at (1318,475) {60.9919};
  \node[anchor=west, text=pink!40] at (1318,489) {60.9919};
  \node[anchor=west, text=pink!40] at (1318,503) {50};
  \node[anchor=west, text=pink!40] at (1318,517) {30};

  \fill[macdred] (1310,561) -- (1316,554.5) -- (1366,554.5) -- (1366,567.5) -- (1316,567.5) -- cycle;
  \node[anchor=west, text=black!80!red] at (1317,561) {0.086729};
  \fill[sigblue] (1310,575) -- (1316,568.5) -- (1366,568.5) -- (1366,581.5) -- (1316,581.5) -- cycle;
  \node[anchor=west, text=white] at (1317,575) {0.053606};

  \fill[volgreen] (1310,698) -- (1316,691.5) -- (1366,691.5) -- (1366,704.5) -- (1316,704.5) -- cycle;
  \node[anchor=west, text=white] at (1317,698) {2,545,414};
\end{scope}
\end{tikzpicture}
\end{document}
